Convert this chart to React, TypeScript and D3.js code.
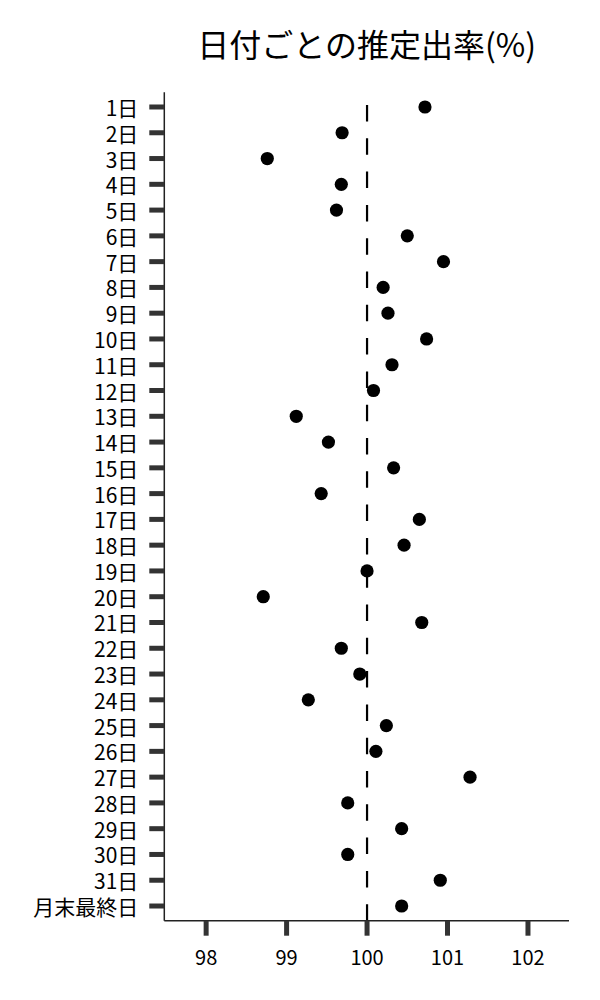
import React, { useEffect, useRef } from "react";
import * as d3 from "d3";

const title = "日付ごとの推定出率(%)";
const categories = [
  "1日", "2日", "3日", "4日", "5日", "6日", "7日", "8日", "9日", "10日",
  "11日", "12日", "13日", "14日", "15日", "16日", "17日", "18日", "19日", "20日",
  "21日", "22日", "23日", "24日", "25日", "26日", "27日", "28日", "29日", "30日",
  "31日", "月末最終日",
];
const values = [
  100.72, 99.69, 98.76, 99.68, 99.62, 100.5, 100.95, 100.2, 100.26, 100.74,
  100.31, 100.08, 99.12, 99.52, 100.33, 99.43, 100.65, 100.46, 100.0, 98.71,
  100.68, 99.68, 99.91, 99.27, 100.24, 100.11, 101.28, 99.76, 100.43, 99.76,
  100.91, 100.43,
];
const xTicks = [98, 99, 100, 101, 102];
const xDomain = [97.48, 102.51];
const referenceValue = 100;

const W = 600;
const H = 1000;
const FONT = "'Noto Sans CJK JP', 'Noto Sans', sans-serif";

export default function App() {
  const ref = useRef<SVGSVGElement>(null);

  useEffect(() => {
    const svg = d3.select(ref.current);
    svg.selectAll("*").remove();

    const left = 164.3, right = 569, top = 92.3, bottom = 920.7;

    const x = d3.scaleLinear().domain(xDomain).range([left, right]);
    const y = d3.scalePoint<string>().domain(categories).range([top, bottom]).padding(0.57);

    // title
    svg.append("text")
      .attr("x", (left + right) / 2)
      .attr("y", 43)
      .attr("text-anchor", "middle")
      .attr("dominant-baseline", "central")
      .attr("font-family", FONT)
      .attr("font-size", 32)
      .attr("fill", "#000")
      .text(title);

    // reference dashed line (drawn from bottom up)
    svg.append("line")
      .attr("x1", x(referenceValue)).attr("x2", x(referenceValue))
      .attr("y1", bottom).attr("y2", top)
      .attr("stroke", "#000")
      .attr("stroke-width", 2.2)
      .attr("stroke-dasharray", "16.5,16.8");

    // y axis
    const yAxis = svg.append("g").attr("transform", `translate(${left},0)`);
    yAxis.append("line")
      .attr("x1", 0).attr("x2", 0).attr("y1", top).attr("y2", bottom)
      .attr("stroke", "#222").attr("stroke-width", 1.5);
    const yt = yAxis.selectAll("g.tick").data(categories).enter().append("g")
      .attr("transform", (d) => `translate(0,${y(d)})`);
    yt.append("line").attr("x1", -15).attr("x2", 0)
      .attr("stroke", "#333").attr("stroke-width", 5);
    yt.append("text")
      .attr("x", -26)
      .attr("text-anchor", "end")
      .attr("dominant-baseline", "central")
      .attr("font-family", FONT)
      .attr("font-size", 21)
      .attr("fill", "#000")
      .text((d) => d);

    // x axis
    const xAxis = svg.append("g").attr("transform", `translate(0,${bottom})`);
    xAxis.append("line")
      .attr("x1", left).attr("x2", right).attr("y1", 0).attr("y2", 0)
      .attr("stroke", "#222").attr("stroke-width", 1.5);
    const xt = xAxis.selectAll("g.tick").data(xTicks).enter().append("g")
      .attr("transform", (d) => `translate(${x(d)},0)`);
    xt.append("line").attr("y1", 0).attr("y2", 15)
      .attr("stroke", "#333").attr("stroke-width", 5);
    xt.append("text")
      .attr("y", 36)
      .attr("text-anchor", "middle")
      .attr("dominant-baseline", "central")
      .attr("font-family", FONT)
      .attr("font-size", 20)
      .attr("fill", "#000")
      .text((d) => String(d));

    // points
    svg.append("g").selectAll("circle")
      .data(categories.map((c, i) => ({ c, v: values[i] })))
      .enter().append("circle")
      .attr("cx", (d) => x(d.v))
      .attr("cy", (d) => y(d.c) as number)
      .attr("r", 6.6)
      .attr("fill", "#000");
  }, []);

  return (
    <svg
      ref={ref}
      width={W}
      height={H}
      style={{ position: "absolute", left: 0, top: 0, background: "#fff" }}
    />
  );
}
